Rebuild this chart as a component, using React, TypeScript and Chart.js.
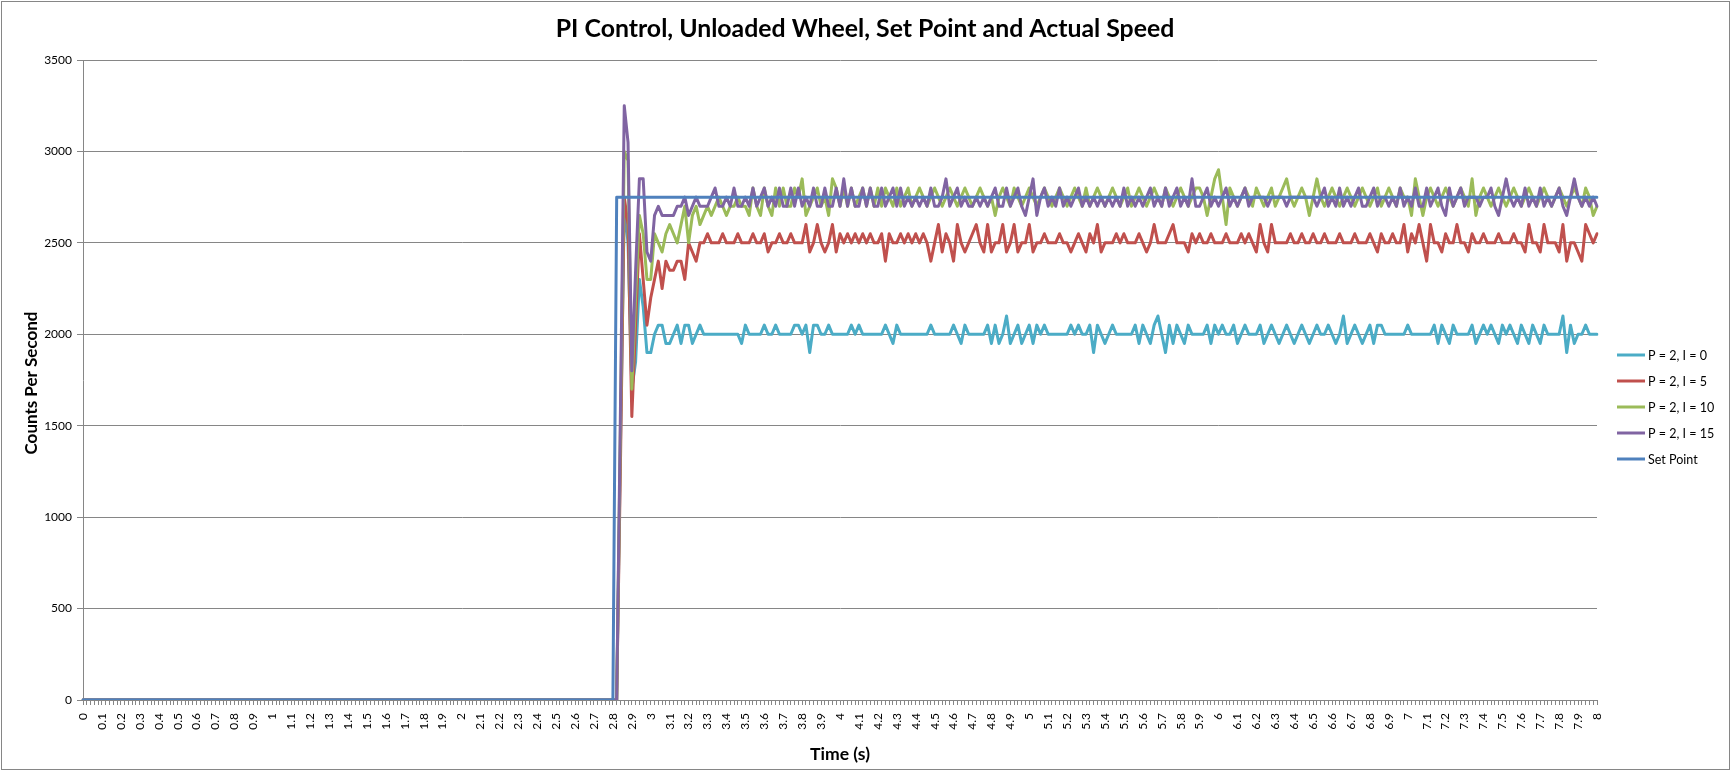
import React, { useEffect, useRef } from "react";
import { Chart, registerables } from "chart.js";

Chart.register(...registerables);

const W = 1731;
const H = 771;
const FAMILY = "Lato, 'Open Sans', sans-serif";

// samples 0.00 s .. 2.78 s (indices 0..139) are all zero for every series
const LEAD_ZEROS = [
  0,0,0,0,0,0,0,0,0,0,0,0,0,0,0,0,0,0,0,0,
  0,0,0,0,0,0,0,0,0,0,0,0,0,0,0,0,0,0,0,0,
  0,0,0,0,0,0,0,0,0,0,0,0,0,0,0,0,0,0,0,0,
  0,0,0,0,0,0,0,0,0,0,0,0,0,0,0,0,0,0,0,0,
  0,0,0,0,0,0,0,0,0,0,0,0,0,0,0,0,0,0,0,0,
  0,0,0,0,0,0,0,0,0,0,0,0,0,0,0,0,0,0,0,0,
  0,0,0,0,0,0,0,0,0,0,0,0,0,0,0,0,0,0,0,0,
];

const TICK_LABELS = [
  "0","0.1","0.2","0.3","0.4","0.5","0.6","0.7","0.8","0.9",
  "1","1.1","1.2","1.3","1.4","1.5","1.6","1.7","1.8","1.9",
  "2","2.1","2.2","2.3","2.4","2.5","2.6","2.7","2.8","2.9",
  "3","3.1","3.2","3.3","3.4","3.5","3.6","3.7","3.8","3.9",
  "4","4.1","4.2","4.3","4.4","4.5","4.6","4.7","4.8","4.9",
  "5","5.1","5.2","5.3","5.4","5.5","5.6","5.7","5.8","5.9",
  "6","6.1","6.2","6.3","6.4","6.5","6.6","6.7","6.8","6.9",
  "7","7.1","7.2","7.3","7.4","7.5","7.6","7.7","7.8","7.9",
  "8",
];

const SERIES_NAMES = ["P = 2, I = 0", "P = 2, I = 5", "P = 2, I = 10", "P = 2, I = 15", "Set Point"];
const SERIES_COLORS = ["#4BACC6", "#C0504D", "#9BBB59", "#8064A2", "#4F81BD"];

const P2_I0 = [
  ...LEAD_ZEROS,
  0,0,1400,2700,2500,1700,1850,2300,2150,1900,1900,2000,2050,2050,1950,1950,2000,2050,1950,2050,
  2050,1950,2000,2050,2000,2000,2000,2000,2000,2000,2000,2000,2000,2000,1950,2050,2000,2000,2000,2000,
  2050,2000,2000,2050,2000,2000,2000,2000,2050,2050,2000,2050,1900,2050,2050,2000,2000,2050,2000,2000,
  2000,2000,2000,2050,2000,2050,2000,2000,2000,2000,2000,2000,2050,2000,1950,2050,2000,2000,2000,2000,
  2000,2000,2000,2000,2050,2000,2000,2000,2000,2000,2050,2000,1950,2050,2000,2000,2000,2000,2000,2050,
  1950,2050,1950,2000,2100,1950,2000,2050,1950,2000,2050,1950,2050,2000,2050,2000,2000,2000,2000,2000,
  2000,2050,2000,2050,2000,2000,2050,1900,2050,2000,1950,2000,2050,2000,2000,2000,2000,2000,2050,1950,
  2050,2000,1950,2050,2100,2000,1900,2050,1950,2050,2000,1950,2050,2000,2000,2000,2000,2050,1950,2050,
  2000,2050,2000,2000,2050,1950,2000,2050,2000,2000,2000,2050,1950,2000,2050,2000,1950,2000,2050,2000,
  1950,2000,2050,2000,1950,2000,2050,2000,2000,2050,2000,1950,2000,2100,1950,2000,2050,2000,1950,2000,
  2050,1950,2050,2050,2000,2000,2000,2000,2000,2000,2050,2000,2000,2000,2000,2000,2000,2050,1950,2050,
  2000,1950,2050,2000,2000,2000,2000,2050,1950,2000,2050,2000,2050,2000,1950,2050,2000,2050,2000,1950,
  2050,2000,1950,2050,2000,1950,2050,2000,2000,2000,2000,2100,1900,2050,1950,2000,2000,2050,2000,2000,
  2000,
];

const P2_I5 = [
  ...LEAD_ZEROS,
  0,0,1300,2750,2600,1550,2050,2550,2300,2050,2200,2300,2400,2250,2400,2350,2350,2400,2400,2300,
  2500,2450,2400,2500,2500,2550,2500,2500,2500,2550,2500,2500,2500,2550,2500,2500,2500,2550,2500,2500,
  2550,2450,2500,2500,2550,2500,2500,2550,2500,2500,2500,2600,2450,2500,2600,2500,2450,2500,2600,2450,
  2550,2500,2550,2500,2550,2500,2550,2500,2550,2500,2500,2550,2400,2550,2500,2500,2550,2500,2550,2500,
  2550,2500,2550,2500,2400,2500,2600,2450,2550,2500,2400,2600,2500,2450,2500,2550,2600,2500,2450,2600,
  2450,2500,2500,2600,2450,2500,2600,2450,2500,2500,2600,2450,2500,2500,2550,2500,2500,2500,2550,2500,
  2500,2450,2500,2550,2500,2450,2550,2500,2600,2450,2500,2500,2500,2550,2500,2550,2500,2500,2500,2550,
  2500,2450,2500,2600,2500,2500,2500,2550,2600,2500,2500,2500,2450,2550,2500,2550,2500,2500,2550,2500,
  2500,2500,2550,2500,2500,2500,2550,2500,2550,2500,2450,2600,2500,2450,2600,2500,2500,2500,2500,2550,
  2500,2500,2550,2500,2500,2550,2500,2500,2550,2500,2500,2500,2550,2500,2500,2500,2550,2500,2500,2500,
  2550,2500,2450,2550,2500,2500,2550,2500,2500,2600,2450,2550,2500,2600,2500,2400,2600,2500,2500,2450,
  2550,2500,2500,2600,2500,2500,2450,2550,2500,2500,2550,2500,2500,2500,2550,2500,2500,2500,2550,2500,
  2500,2450,2600,2500,2500,2450,2600,2500,2500,2500,2450,2600,2400,2500,2500,2450,2400,2600,2550,2500,
  2550,
];

const P2_I10 = [
  ...LEAD_ZEROS,
  0,0,1500,3000,2950,1700,2200,2650,2550,2300,2300,2550,2500,2450,2550,2600,2550,2500,2600,2700,
  2500,2650,2700,2600,2650,2700,2650,2700,2750,2700,2650,2700,2700,2750,2700,2700,2650,2800,2700,2650,
  2800,2700,2650,2800,2700,2800,2700,2700,2800,2750,2850,2650,2700,2750,2800,2700,2750,2650,2850,2800,
  2700,2800,2700,2800,2700,2750,2800,2700,2800,2700,2800,2700,2800,2750,2700,2800,2700,2750,2800,2700,
  2750,2800,2750,2700,2750,2800,2750,2700,2750,2800,2750,2700,2750,2800,2750,2700,2750,2800,2750,2700,
  2750,2650,2750,2800,2750,2700,2800,2750,2700,2750,2800,2750,2700,2750,2800,2750,2700,2750,2800,2750,
  2700,2750,2800,2750,2700,2800,2700,2750,2800,2750,2700,2750,2800,2750,2700,2750,2800,2700,2750,2800,
  2750,2700,2750,2800,2750,2700,2800,2750,2700,2750,2800,2750,2700,2750,2800,2800,2750,2650,2750,2850,
  2900,2750,2600,2800,2750,2700,2750,2800,2750,2700,2800,2750,2700,2750,2800,2700,2750,2800,2850,2750,
  2700,2750,2800,2750,2650,2750,2850,2750,2700,2750,2800,2750,2700,2750,2800,2750,2700,2750,2800,2750,
  2700,2750,2800,2700,2750,2800,2750,2700,2800,2750,2750,2650,2850,2750,2650,2750,2800,2750,2700,2750,
  2800,2750,2700,2750,2800,2750,2700,2850,2650,2750,2800,2750,2700,2750,2800,2750,2700,2750,2800,2750,
  2700,2750,2800,2750,2700,2750,2800,2750,2700,2750,2800,2750,2700,2750,2800,2750,2700,2800,2750,2650,
  2700,
];

const P2_I15 = [
  ...LEAD_ZEROS,
  0,0,1600,3250,3050,1800,2350,2850,2850,2450,2400,2650,2700,2650,2650,2650,2650,2700,2700,2750,
  2650,2700,2750,2700,2700,2700,2750,2800,2700,2700,2750,2700,2800,2700,2700,2750,2700,2800,2700,2750,
  2800,2700,2750,2700,2800,2700,2700,2800,2700,2800,2700,2750,2700,2800,2700,2700,2800,2700,2700,2800,
  2700,2850,2700,2800,2700,2700,2800,2700,2800,2700,2700,2800,2700,2750,2800,2700,2800,2700,2750,2700,
  2750,2700,2750,2700,2800,2700,2700,2750,2850,2700,2750,2800,2700,2750,2700,2700,2750,2700,2750,2700,
  2750,2800,2700,2700,2800,2700,2750,2800,2700,2650,2750,2850,2650,2750,2800,2700,2750,2700,2800,2700,
  2750,2700,2750,2800,2700,2750,2700,2750,2700,2750,2700,2750,2700,2750,2700,2800,2700,2750,2700,2750,
  2700,2750,2800,2700,2750,2700,2800,2700,2750,2800,2700,2750,2700,2850,2700,2700,2750,2800,2700,2750,
  2700,2750,2800,2700,2750,2700,2750,2800,2700,2750,2750,2750,2750,2700,2750,2750,2750,2750,2700,2750,
  2750,2750,2750,2750,2750,2750,2700,2750,2800,2700,2750,2700,2800,2700,2750,2700,2750,2800,2700,2700,
  2750,2800,2700,2750,2750,2700,2750,2700,2800,2700,2750,2700,2800,2700,2700,2800,2700,2750,2800,2700,
  2650,2800,2700,2750,2800,2700,2750,2750,2750,2700,2750,2750,2800,2700,2650,2750,2850,2750,2700,2750,
  2700,2800,2700,2750,2700,2800,2700,2750,2700,2750,2800,2700,2650,2750,2850,2750,2700,2750,2700,2750,
  2700,
];

const SET_POINT = [
  ...LEAD_ZEROS,
  0,2750,2750,2750,2750,2750,2750,2750,2750,2750,2750,2750,2750,2750,2750,2750,2750,2750,2750,2750,
  2750,2750,2750,2750,2750,2750,2750,2750,2750,2750,2750,2750,2750,2750,2750,2750,2750,2750,2750,2750,
  2750,2750,2750,2750,2750,2750,2750,2750,2750,2750,2750,2750,2750,2750,2750,2750,2750,2750,2750,2750,
  2750,2750,2750,2750,2750,2750,2750,2750,2750,2750,2750,2750,2750,2750,2750,2750,2750,2750,2750,2750,
  2750,2750,2750,2750,2750,2750,2750,2750,2750,2750,2750,2750,2750,2750,2750,2750,2750,2750,2750,2750,
  2750,2750,2750,2750,2750,2750,2750,2750,2750,2750,2750,2750,2750,2750,2750,2750,2750,2750,2750,2750,
  2750,2750,2750,2750,2750,2750,2750,2750,2750,2750,2750,2750,2750,2750,2750,2750,2750,2750,2750,2750,
  2750,2750,2750,2750,2750,2750,2750,2750,2750,2750,2750,2750,2750,2750,2750,2750,2750,2750,2750,2750,
  2750,2750,2750,2750,2750,2750,2750,2750,2750,2750,2750,2750,2750,2750,2750,2750,2750,2750,2750,2750,
  2750,2750,2750,2750,2750,2750,2750,2750,2750,2750,2750,2750,2750,2750,2750,2750,2750,2750,2750,2750,
  2750,2750,2750,2750,2750,2750,2750,2750,2750,2750,2750,2750,2750,2750,2750,2750,2750,2750,2750,2750,
  2750,2750,2750,2750,2750,2750,2750,2750,2750,2750,2750,2750,2750,2750,2750,2750,2750,2750,2750,2750,
  2750,2750,2750,2750,2750,2750,2750,2750,2750,2750,2750,2750,2750,2750,2750,2750,2750,2750,2750,2750,
  2750,
];

const SERIES_VALUES = [P2_I0, P2_I5, P2_I10, P2_I15, SET_POINT];

const SAMPLE_STEP = 0.02; // seconds between samples
const LABEL_EVERY = 5; // one axis label every 0.1 s
const CATEGORIES = SET_POINT.map((_, i) => (i * SAMPLE_STEP).toFixed(2));

const TITLE = "PI Control, Unloaded Wheel, Set Point and Actual Speed";
const X_TITLE = "Time (s)";
const Y_TITLE = "Counts Per Second";
const Y_MIN = 0;
const Y_MAX = 3500;
const Y_STEP = 500;

function fitSize(ctx: CanvasRenderingContext2D, text: string, weight: string, target: number) {
  ctx.font = `${weight} 100px ${FAMILY}`;
  const w = ctx.measureText(text).width;
  return (100 * target) / w;
}

const decorPlugin = {
  id: "decor",
  afterDraw(chart: any) {
    const ctx: CanvasRenderingContext2D = chart.ctx;
    ctx.save();
    // chart border
    ctx.strokeStyle = "#868686";
    ctx.lineWidth = 1;
    ctx.strokeRect(1.5, 1.5, chart.width - 3, chart.height - 3);

    ctx.fillStyle = "#000000";
    // title
    const ts = fitSize(ctx, TITLE, "bold", 619);
    ctx.font = `bold ${ts}px ${FAMILY}`;
    ctx.textAlign = "center";
    ctx.textBaseline = "alphabetic";
    ctx.fillText(TITLE, 865, 37);

    // x axis title
    const xs = fitSize(ctx, X_TITLE, "bold", 60);
    ctx.font = `bold ${xs}px ${FAMILY}`;
    ctx.fillText(X_TITLE, 840, 760);

    // y axis title
    const ys = fitSize(ctx, Y_TITLE, "bold", 143);
    ctx.font = `bold ${ys}px ${FAMILY}`;
    ctx.save();
    ctx.translate(36.5, 383);
    ctx.rotate(-Math.PI / 2);
    ctx.fillText(Y_TITLE, 0, 0);
    ctx.restore();

    // legend
    const ls = fitSize(ctx, SERIES_NAMES[0], "normal", 59);
    ctx.font = `normal ${ls}px ${FAMILY}`;
    ctx.textAlign = "left";
    ctx.textBaseline = "middle";
    SERIES_NAMES.forEach((name, i) => {
      const y = 355 + 26 * i;
      ctx.strokeStyle = SERIES_COLORS[i];
      ctx.lineWidth = 3;
      ctx.beginPath();
      ctx.moveTo(1617, y);
      ctx.lineTo(1645, y);
      ctx.stroke();
      ctx.fillStyle = "#000000";
      ctx.fillText(name, 1648, y + 0.5);
    });
    ctx.restore();
  },
};

export default function App() {
  const ref = useRef<HTMLCanvasElement>(null);
  useEffect(() => {
    const canvas = ref.current;
    if (!canvas) return;
    const chart = new Chart(canvas, {
      type: "line",
      data: {
        labels: CATEGORIES,
        datasets: SERIES_VALUES.map((vals, i) => ({
          label: SERIES_NAMES[i],
          data: vals,
          borderColor: SERIES_COLORS[i],
          backgroundColor: SERIES_COLORS[i],
          borderWidth: 3,
          pointRadius: 0,
          tension: 0,
          fill: false,
          borderJoinStyle: "round",
          borderCapStyle: "round",
          order: SERIES_VALUES.length - i,
        })),
      },
      options: {
        animation: false,
        responsive: false,
        events: [],
        layout: { padding: { left: 0, right: 134, top: 60, bottom: 0 } },
        plugins: {
          legend: { display: false },
          title: { display: false },
          tooltip: { enabled: false },
        },
        scales: {
          x: {
            type: "category",
            offset: false,
            grid: {
              display: true,
              drawOnChartArea: false,
              drawTicks: true,
              tickLength: 5,
              color: "#868686",
              lineWidth: 1,
            },
            border: { display: true, color: "#868686", width: 1 },
            ticks: {
              autoSkip: false,
              maxRotation: 90,
              minRotation: 90,
              padding: 8,
              color: "#000000",
              font: { family: FAMILY, size: 12 },
              callback: (_v: any, i: number) =>
                i % LABEL_EVERY === 0 ? TICK_LABELS[i / LABEL_EVERY] : "",
            },
            afterFit: (s: any) => {
              s.height = 71;
            },
          },
          y: {
            min: Y_MIN,
            max: Y_MAX,
            ticks: {
              stepSize: Y_STEP,
              padding: 5,
              color: "#000000",
              font: { family: FAMILY, size: 12 },
              callback: (v: any) => String(v),
            },
            grid: { color: "#868686", lineWidth: 1, tickLength: 6 },
            border: { display: true, color: "#868686", width: 1 },
            afterFit: (s: any) => {
              s.width = 83;
            },
          },
        },
      } as any,
      plugins: [decorPlugin],
    } as any);
    return () => chart.destroy();
  }, []);
  return (
    <div style={{ position: "fixed", left: 0, top: 0, width: W, height: H, background: "#ffffff" }}>
      <canvas ref={ref} width={W} height={H} style={{ display: "block", width: W, height: H }} />
    </div>
  );
}
